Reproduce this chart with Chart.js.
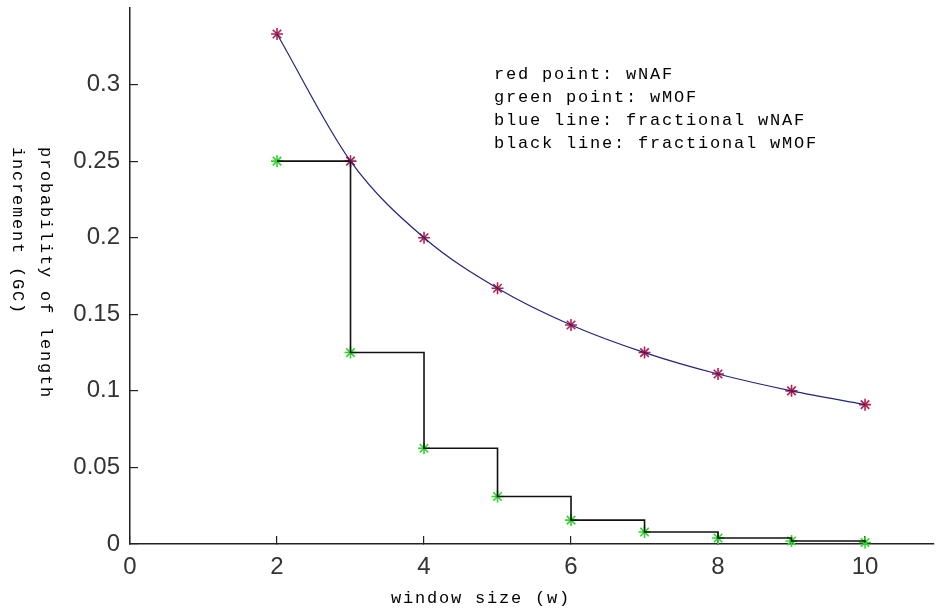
<!DOCTYPE html>
<html>
<head>
<meta charset="utf-8">
<script src="https://cdn.jsdelivr.net/npm/chart.js@4/dist/chart.umd.min.js"></script>
<style>
  html, body { margin: 0; padding: 0; background: #fff; }
  canvas { display: block; }
</style>
</head>
<body>
<canvas id="chart" width="941" height="613"></canvas>
<script>
// window sizes
const windowSizes = [2, 3, 4, 5, 6, 7, 8, 9, 10];
// red points (wNAF) and green points (wMOF)
const wnafValues = [0.333, 0.25, 0.2, 0.167, 0.143, 0.125, 0.111, 0.1, 0.091];
const wmofValues = [0.25, 0.125, 0.0625, 0.031, 0.0156, 0.0078, 0.0039, 0.002, 0.001];

const xTicks = [0, 2, 4, 6, 8, 10];
const xTickLabels = ['0', '2', '4', '6', '8', '10'];
const yTicks = [0, 0.05, 0.1, 0.15, 0.2, 0.25, 0.3];
const yTickLabels = ['0', '0.05', '0.1', '0.15', '0.2', '0.25', '0.3'];

const noteLines = [
    'red point: wNAF',
    'green point: wMOF',
    'blue line: fractional wNAF',
    'black line: fractional wMOF'
];
const yTitleLines = ['probability of length', 'increment (GC)'];
const xTitle = 'window size (w)';

const pts = vals => windowSizes.map((w, i) => ({ x: w, y: vals[i] }));

const tickFont = { family: 'Liberation Sans, Arial, sans-serif', size: 24 };
const monoFont = '17px "Liberation Mono", "DejaVu Sans Mono", monospace';

// axis titles and the note block, drawn as canvas text
const textPlugin = {
    id: 'texts',
    afterDraw(chart) {
        const ctx = chart.ctx;
        ctx.save();
        ctx.font = monoFont;
        ctx.fillStyle = '#000';
        ctx.letterSpacing = '1.8px';
        ctx.textBaseline = 'middle';

        ctx.textAlign = 'left';
        noteLines.forEach((t, i) => ctx.fillText(t, 494, 74 + i * 23));

        ctx.textAlign = 'center';
        ctx.fillText(xTitle, 481, 598);

        // y title reads top-down, lines left-aligned
        ctx.translate(45, 147);
        ctx.rotate(Math.PI / 2);
        ctx.textAlign = 'left';
        yTitleLines.forEach((t, i) => ctx.fillText(t, 0, i * 28));
        ctx.restore();
    }
};

new Chart(document.getElementById('chart').getContext('2d'), {
    type: 'line',
    data: {
        datasets: [
            {
                label: 'fractional wNAF',
                data: pts(wnafValues),
                borderColor: '#24247e', borderWidth: 1.2,
                cubicInterpolationMode: 'monotone',
                pointRadius: 0, fill: false, clip: false
            },
            {
                label: 'fractional wMOF',
                data: pts(wmofValues),
                borderColor: '#111', borderWidth: 1.6,
                stepped: 'before',
                pointRadius: 0, fill: false, clip: false
            },
            {
                label: 'wNAF',
                data: pts(wnafValues),
                showLine: false,
                pointStyle: 'star', pointRadius: 6,
                pointBorderColor: '#b3204c', pointBorderWidth: 1.6,
                clip: false
            },
            {
                label: 'wMOF',
                data: pts(wmofValues),
                showLine: false,
                pointStyle: 'star', pointRadius: 6,
                pointBorderColor: '#2fd62f', pointBorderWidth: 1.6,
                clip: false
            }
        ]
    },
    options: {
        responsive: false,
        animation: false,
        layout: { padding: { top: 8, right: -1, left: 0, bottom: 0 } },
        plugins: { legend: { display: false }, tooltip: { enabled: false } },
        scales: {
            x: {
                type: 'linear', min: 0, max: 10.93,
                afterBuildTicks: s => { s.ticks = xTicks.map(v => ({ value: v })); },
                afterFit: s => { s.height = 69; s.paddingLeft = 0; s.paddingRight = 0; },
                ticks: { font: tickFont, color: '#333', padding: 17, maxRotation: 0,
                         callback: (v, i) => xTickLabels[i] },
                grid: { drawOnChartArea: false, drawTicks: true, tickLength: -8, color: '#222', lineWidth: 1.2 },
                border: { display: true, color: '#222', width: 1.5 }
            },
            y: {
                type: 'linear', min: 0, max: 0.35,
                afterBuildTicks: s => { s.ticks = yTicks.map(v => ({ value: v })); },
                afterFit: s => { s.width = 130; s.paddingTop = 0; s.paddingBottom = 0; },
                ticks: { font: tickFont, color: '#333', padding: 18,
                         callback: (v, i) => yTickLabels[i] },
                grid: { drawOnChartArea: false, drawTicks: true, tickLength: -8, color: '#222', lineWidth: 1.2 },
                border: { display: true, color: '#222', width: 1.5 }
            }
        }
    },
    plugins: [textPlugin]
});
</script>
</body>
</html>
